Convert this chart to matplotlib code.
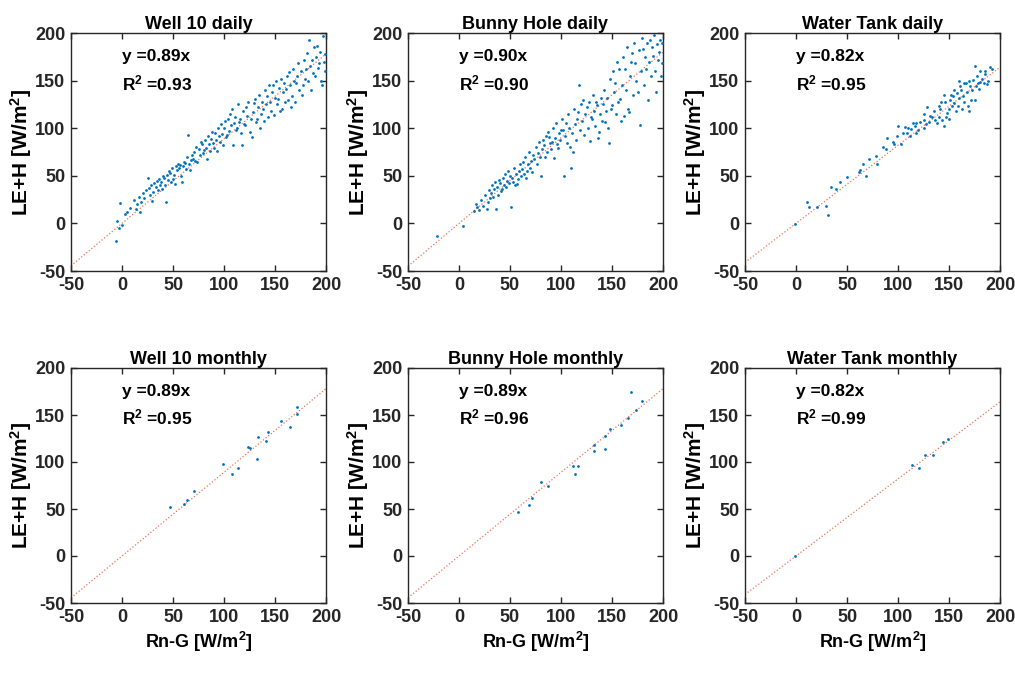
import numpy as np
import matplotlib as mpl
import matplotlib.pyplot as plt

## Style
mpl.rcParams['font.family'] = 'Liberation Sans'
mpl.rcParams['font.weight'] = 'bold'
mpl.rcParams['axes.labelweight'] = 'bold'
mpl.rcParams['axes.titleweight'] = 'bold'
mpl.rcParams['axes.unicode_minus'] = False
mpl.rcParams['mathtext.fontset'] = 'custom'
mpl.rcParams['mathtext.bf'] = 'Liberation Sans:bold'
mpl.rcParams['mathtext.rm'] = 'Liberation Sans:bold'
mpl.rcParams['mathtext.default'] = 'bf'

## Data
titles = ["Well 10 daily", "Bunny Hole daily", "Water Tank daily",
          "Well 10 monthly", "Bunny Hole monthly", "Water Tank monthly"]
slopes = [0.89, 0.90, 0.82, 0.89, 0.89, 0.82]
r2     = [0.93, 0.90, 0.95, 0.95, 0.96, 0.99]

well10_daily = [
    (-6,-18),(-5,3),(-2,21),(-3,-5),(0,-2),(5,12),(8,16),(3,10),
    (12,25),(14,15),(15,20),(17,28),(18,12),(19,22),
    (21,32),(22,27),(24,35),(25,48),(26,37),(27,30),(28,40),(29,24),(30,33),
    (31,42),(33,38),(34,45),(35,35),(36,47),(37,40),(38,44),(39,36),(40,50),
    (41,48),(42,40),(43,22),(44,51),(45,46),(46,55),(47,53),(48,43),(49,58),(50,47),
    (51,51),(52,41),(53,60),(54,56),(55,62),(56,58),(57,61),(58,50),(59,43),(60,60),
    (61,65),(62,63),(63,57),(64,70),(65,93),(66,62),(67,56),(68,67),(69,72),(70,68),
    (71,75),(72,66),(73,80),(74,65),(75,78),(76,72),(77,85),(78,83),(79,74),(80,77),
    (81,88),(82,79),(83,68),(84,92),(85,83),(86,76),(87,89),(88,96),(89,84),(90,79),
    (91,95),(92,88),(93,76),(94,100),(95,92),(96,86),(97,104),(98,94),(99,82),(100,100),
    (101,108),(102,91),(103,93),(104,110),(105,97),(106,115),(107,103),(108,120),(109,82),(110,105),
    (111,112),(112,98),(113,100),(114,125),(115,107),(116,110),(117,95),(118,82),(119,118),(120,104),
    (121,103),(122,122),(123,113),(124,128),(125,96),(126,110),(127,91),(128,117),(129,126),(130,131),
    (131,106),(132,110),(133,122),(134,135),(135,100),(136,115),(137,128),(138,120),(139,108),(140,140),
    (141,125),(142,134),(143,112),(144,145),(145,127),(146,118),(147,138),(148,145),(149,114),(150,132),
    (151,150),(152,125),(153,131),(154,142),(155,118),(156,152),(157,120),(158,138),(159,147),(160,128),
    (161,141),(162,155),(163,130),(164,159),(165,145),(166,122),(167,134),(168,162),(169,150),(170,127),
    (171,148),(172,155),(173,169),(174,140),(175,160),(176,135),(177,145),(178,172),(179,152),(180,162),
    (181,179),(182,150),(183,193),(184,165),(185,140),(186,172),(187,158),(188,185),(189,155),(190,175),
    (191,186),(192,163),(193,169),(194,180),(195,150),(196,145),(197,197),(198,170),(199,178),(199,160),
]

bunny_daily = [
    (-22,-13),(4,-3),
    (15,13),(17,20),(18,17),(20,14),(22,25),(24,18),(25,30),(27,15),(28,22),(30,27),(29,35),
    (31,32),(32,40),(33,28),(34,36),(35,44),(36,15),(37,38),(38,30),(39,46),(40,42),
    (41,34),(42,36),(43,48),(44,40),(45,52),(46,38),(47,45),(48,55),(49,42),(50,50),
    (51,17),(52,48),(53,44),(54,58),(55,40),(56,52),(57,41),(58,47),(59,55),(60,62),
    (61,50),(62,57),(63,65),(64,52),(65,70),(66,48),(67,55),(68,62),(69,75),(70,58),
    (71,66),(72,54),(73,72),(74,68),(75,80),(76,62),(77,74),(78,85),(79,70),(80,50),
    (81,78),(82,88),(83,82),(84,70),(85,92),(86,75),(87,96),(88,91),(89,84),(90,78),
    (91,86),(92,100),(93,69),(94,90),(95,105),(96,83),(97,79),(98,95),(99,88),(100,98),
    (101,110),(102,98),(103,50),(104,92),(105,105),(106,84),(107,115),(108,100),(109,80),(110,58),
    (111,95),(112,75),(113,120),(114,104),(115,88),(116,110),(117,117),(118,145),(119,98),(120,125),
    (121,108),(122,130),(123,93),(124,115),(125,122),(126,100),(127,127),(128,87),(129,112),(130,110),
    (131,135),(132,118),(133,102),(134,128),(135,124),(136,90),(137,96),(138,115),(139,132),(140,108),
    (141,125),(142,140),(143,107),(144,118),(145,132),(146,100),(147,84),(148,152),(149,120),(150,124),
    (151,160),(152,138),(153,148),(154,115),(155,170),(156,128),(157,162),(158,131),(159,108),(160,145),
    (161,175),(162,113),(163,162),(164,140),(165,185),(166,120),(167,117),(168,155),(169,170),(170,179),
    (171,135),(172,190),(173,169),(174,150),(175,138),(176,182),(177,103),(178,160),(179,195),(180,183),
    (181,145),(182,175),(183,162),(184,190),(185,130),(186,170),(187,193),(188,155),(189,185),(190,176),
    (191,198),(192,160),(193,138),(194,188),(195,172),(196,180),(197,193),(198,155),(199,168),(199,190),
]

tank_daily = [
    (-1,-1),(11,22),(13,17),(21,17),(29,18),(31,9),(34,38),(39,36),(43,43),(50,49),
    (62,54),(63,56),(66,62),(69,50),(72,68),(78,71),(79,62),(85,80),(88,78),(89,90),
    (95,85),(96,83),(99,92),(100,102),(103,83),(105,95),(107,101),(109,95),(110,100),
    (112,92),(113,99),(115,105),(117,102),(118,95),(118,105),(120,98),(122,106),
    (125,109),(125,115),(125,100),(127,104),(128,122),(130,106),(131,113),(133,112),
    (135,118),(136,109),(138,105),(140,123),(140,112),(141,120),(142,128),(143,109),
    (145,102),(145,135),(146,127),(147,112),(148,116),(150,120),(150,110),(151,130),
    (152,135),(153,123),(154,134),(155,126),(155,140),(157,118),(158,137),(159,123),
    (160,132),(160,150),(161,144),(162,140),(163,120),(164,134),(165,127),(165,148),
    (167,148),(168,138),(169,123),(170,150),(170,118),(171,144),(172,130),(173,140),
    (174,151),(175,130),(175,165),(176,144),(177,155),(178,148),(179,141),(180,149),
    (180,160),(182,152),(184,148),(185,157),(185,160),(187,146),(188,150),(190,164),(192,162),
]

well10_monthly = [
    (47,52),(61,55),(64,60),(71,69),(99,98),(108,87),(114,94),(124,116),(125,115),
    (132,103),(133,127),(141,122),(143,132),(156,144),(165,137),(172,151),(172,159),
]

bunny_monthly = [
    (58,47),(69,54),(72,62),(80,79),(87,74),(112,96),(114,87),(117,96),(132,112),
    (132,118),(143,114),(143,128),(148,135),(159,139),(166,147),(169,175),(174,155),(179,165),
]

tank_monthly = [
    (-1,0),(114,97),(121,94),(126,107),(134,107),(144,121),(149,124),
]

series = [well10_daily, bunny_daily, tank_daily, well10_monthly, bunny_monthly, tank_monthly]

ticks = [-50, 0, 50, 100, 150, 200]

## Layout (figure pixels 1015 x 678)
W, H = 1015., 678.
lefts   = [71, 408, 745]
width   = 255
bottoms = [271, 603]
heights = [238, 235]

fig = plt.figure(figsize=(W/100, H/100), dpi=100)

for k in range(6):
    r, c = divmod(k, 3)
    ax = fig.add_axes([lefts[c]/W, 1 - bottoms[r]/H, width/W, heights[r]/H])
    pts = np.array(series[k], dtype=float)
    ax.scatter(pts[:, 0], pts[:, 1], s=4, color='#0072BD', linewidths=0, zorder=3)
    xl = np.array([-50, 200])
    ax.plot(xl, slopes[k]*xl, ls=':', color='#E8735A', lw=0.9, zorder=2)
    ax.set_xlim(-50, 200)
    ax.set_ylim(-50, 200)
    ax.set_xticks(ticks)
    ax.set_yticks(ticks)
    ax.tick_params(direction='in', top=True, right=True, labelsize=13, length=4,
                   width=1, colors='#262626', pad=4)
    for sp in ax.spines.values():
        sp.set_linewidth(1)
        sp.set_color('#262626')
    ax.set_title(titles[k], fontsize=13, pad=3)
    ax.set_ylabel(r"LE+H [W/m$^2$]", fontsize=15, labelpad=1)
    if r == 1:
        ax.set_xlabel(r"Rn-G [W/m$^2$]", fontsize=13, labelpad=3)
    ax.text(0, 175, "y =%.2fx" % slopes[k], fontsize=12.5, va='center')
    ax.text(0, 147, r"R$^2$ =%.2f" % r2[k], fontsize=12.5, va='center')

fig.savefig("out.png", dpi=100)
